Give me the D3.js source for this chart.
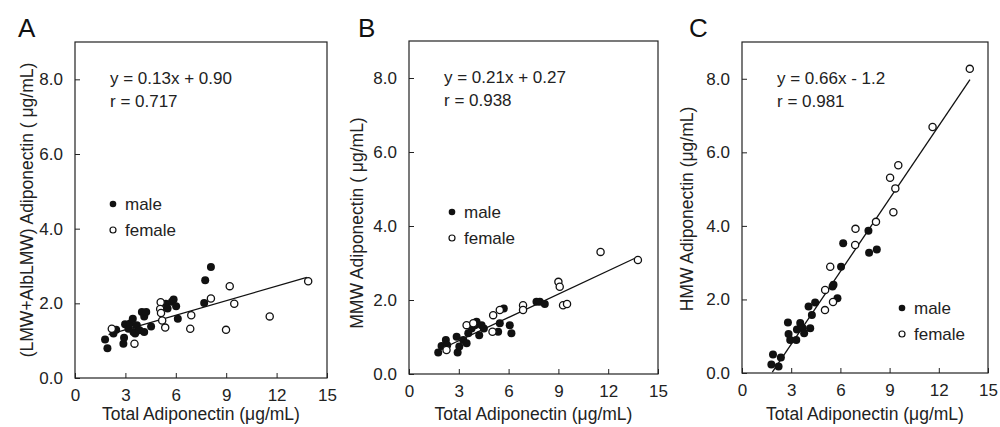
<!DOCTYPE html>
<html>
<head>
<meta charset="utf-8">
<script src="https://cdn.jsdelivr.net/npm/d3@7"></script>
<style>
  body { margin: 0; background: #fff; }
  svg { font-family: "Liberation Sans", Arial, sans-serif; }
</style>
</head>
<body>
<div id="chart"></div>
<script>
const width = 1000;
const height = 427;

// tick values shared by all panels
const xTicks = [0, 3, 6, 9, 12, 15];
const yTicks = [0, 2, 4, 6, 8];

// panel A: (LMW+AlbLMW)
const maleA = [[1.79,1.03],[1.93,0.80],[2.29,1.19],[2.45,1.29],[2.88,0.92],[2.92,1.08],[2.98,1.44],
  [3.18,1.32],[3.28,1.46],[3.44,1.59],[3.48,1.23],[3.58,1.19],[3.68,1.41],[3.84,1.28],[3.98,1.77],
  [4.12,1.65],[4.24,1.77],[4.12,1.23],[4.53,1.38],[5.41,1.99],[5.51,1.86],[5.77,2.04],[5.87,2.10],
  [6.02,1.92],[6.12,1.59],[7.69,2.01],[7.75,2.62],[8.09,2.97]];
const femaleA = [[2.19,1.32],[3.54,0.92],[5.10,2.03],[5.07,1.85],[5.12,1.74],[5.19,1.54],[5.37,1.35],
  [6.92,1.68],[6.86,1.32],[8.09,2.13],[8.99,1.29],[9.21,2.46],[9.48,1.99],[11.59,1.65],[13.88,2.59]];
const fitA = {slope: 0.13, intercept: 0.90, x0: 2.0, x1: 13.8};
const eqA = ["y = 0.13x + 0.90", "r = 0.717"];

// panel B: MMW
const maleB = [[1.76,0.58],[1.96,0.76],[2.22,0.92],[2.30,0.78],[2.87,1.01],[2.93,0.58],[3.03,0.74],
  [3.27,0.92],[3.47,0.83],[3.57,1.10],[3.77,1.23],[3.97,1.32],[4.07,1.41],[4.23,1.05],[4.37,1.32],
  [4.51,1.23],[5.37,1.14],[5.47,1.37],[5.71,1.77],[6.07,1.32],[6.17,1.10],[7.68,1.95],[7.88,1.95],
  [8.18,1.89]];
const femaleB = [[2.26,0.65],[3.47,1.32],[3.87,1.37],[5.03,1.14],[5.07,1.59],[5.47,1.73],[6.87,1.86],
  [6.87,1.73],[9.00,2.49],[9.08,2.36],[9.28,1.86],[9.52,1.89],[11.54,3.30],[13.79,3.08]];
const fitB = {slope: 0.21, intercept: 0.27, x0: 2.0, x1: 13.8};
const eqB = ["y = 0.21x + 0.27", "r = 0.938"];

// panel C: HMW
const maleC = [[1.79,0.23],[1.89,0.50],[2.23,0.18],[2.37,0.42],[2.80,1.37],[2.84,1.06],[2.94,0.90],
  [3.31,0.90],[3.35,1.18],[3.55,1.36],[3.71,1.22],[3.79,1.08],[4.16,1.22],[4.06,1.81],[4.26,1.58],
  [4.46,1.92],[5.52,2.35],[5.58,2.40],[5.82,2.03],[6.04,2.89],[6.17,3.53],[7.71,3.87],[7.75,3.27],
  [8.22,3.36]];
const femaleC = [[5.07,2.26],[5.06,1.71],[5.55,1.93],[5.38,2.89],[6.90,3.48],[6.92,3.92],[8.17,4.11],
  [9.03,5.31],[9.23,4.37],[9.35,5.02],[9.53,5.65],[11.62,6.69],[13.89,8.27]];
const fitC = {slope: 0.66, intercept: -1.2, x0: 1.85, x1: 13.9};
const eqC = ["y = 0.66x - 1.2", "r = 0.981"];

const panels = [
  {letter: "A", lx: 18, x0: 75, x1: 327, top: 42, bottom: 378, male: maleA, female: femaleA, fit: fitA, eq: eqA,
   yLabel: "(LMW+AlbLMW) Adiponectin ( \u03bcg/mL)", yLabelX: 33, yLabelY: 210, legend: [38, 162]},
  {letter: "B", lx: 358, x0: 409, x1: 658, top: 41, bottom: 374, male: maleB, female: femaleB, fit: fitB, eq: eqB,
   yLabel: "MMW Adiponectin ( \u03bcg/mL)", yLabelX: 363, yLabelY: 223, legend: [43, 171]},
  {letter: "C", lx: 689, x0: 742, x1: 988, top: 42, bottom: 373, male: maleC, female: femaleC, fit: fitC, eq: eqC,
   yLabel: "HMW Adiponectin (\u03bcg/mL)", yLabelX: 693, yLabelY: 209, legend: [160, 266]}
];

const svg = d3.select("#chart").append("svg")
  .attr("width", width)
  .attr("height", height);

function drawPanel(p) {
  const x = d3.scaleLinear().domain([0, 15]).range([p.x0, p.x1]);
  const y = d3.scaleLinear().domain([0, 9]).range([p.bottom, p.top]);
  const g = svg.append("g");

  // frame
  g.append("rect")
    .attr("x", p.x0).attr("y", p.top)
    .attr("width", p.x1 - p.x0).attr("height", p.bottom - p.top)
    .attr("fill", "none").attr("stroke", "#222").attr("stroke-width", 1.2);

  // axes, ticks pointing inward
  const xAxis = g.append("g")
    .attr("transform", `translate(0,${p.bottom})`)
    .call(d3.axisBottom(x).tickValues(xTicks).tickSize(-5).tickPadding(11).tickFormat(d3.format("d")));
  const yAxis = g.append("g")
    .attr("transform", `translate(${p.x0},0)`)
    .call(d3.axisLeft(y).tickValues(yTicks).tickSize(-5).tickPadding(12).tickFormat(d3.format(".1f")));
  [xAxis, yAxis].forEach(a => {
    a.select(".domain").remove();
    a.selectAll("line").attr("stroke", "#222");
    a.selectAll("text").attr("font-size", 17).attr("fill", "#222")
      .attr("font-family", "Liberation Sans, Arial, sans-serif");
  });

  // titles
  g.append("text")
    .attr("x", (p.x0 + p.x1) / 2).attr("y", 420)
    .attr("text-anchor", "middle").attr("font-size", 17.5).attr("fill", "#222")
    .text("Total Adiponectin (\u03bcg/mL)");
  g.append("text")
    .attr("transform", `translate(${p.yLabelX},${p.yLabelY}) rotate(-90)`)
    .attr("text-anchor", "middle").attr("font-size", 17.5).attr("fill", "#222")
    .text(p.yLabel);
  g.append("text")
    .attr("x", p.lx).attr("y", 37)
    .attr("font-size", 26).attr("fill", "#111")
    .text(p.letter);

  // regression line
  g.append("line")
    .attr("x1", x(p.fit.x0)).attr("y1", y(p.fit.slope * p.fit.x0 + p.fit.intercept))
    .attr("x2", x(p.fit.x1)).attr("y2", y(p.fit.slope * p.fit.x1 + p.fit.intercept))
    .attr("stroke", "#111").attr("stroke-width", 1.3);

  // equation
  g.selectAll(".eq").data(p.eq).join("text")
    .attr("x", p.x0 + 35).attr("y", (d, i) => p.top + 42 + i * 23)
    .attr("font-size", 17).attr("fill", "#222")
    .text(d => d);

  // points
  g.selectAll(".male").data(p.male).join("circle")
    .attr("cx", d => x(d[0])).attr("cy", d => y(d[1])).attr("r", 4)
    .attr("fill", "#111");
  g.selectAll(".female").data(p.female).join("circle")
    .attr("cx", d => x(d[0])).attr("cy", d => y(d[1])).attr("r", 3.6)
    .attr("fill", "#fff").attr("stroke", "#111").attr("stroke-width", 1.3);

  // legend
  const lx = p.x0 + p.legend[0];
  const ly = p.top + p.legend[1];
  g.append("circle").attr("cx", lx).attr("cy", ly).attr("r", 3.3).attr("fill", "#111");
  g.append("circle").attr("cx", lx).attr("cy", ly + 26).attr("r", 3).attr("fill", "#fff")
    .attr("stroke", "#111").attr("stroke-width", 1.2);
  g.append("text").attr("x", lx + 12).attr("y", ly + 6).attr("font-size", 17).attr("fill", "#222").text("male");
  g.append("text").attr("x", lx + 12).attr("y", ly + 32).attr("font-size", 17).attr("fill", "#222").text("female");
}

panels.forEach(drawPanel);
</script>
</body>
</html>
